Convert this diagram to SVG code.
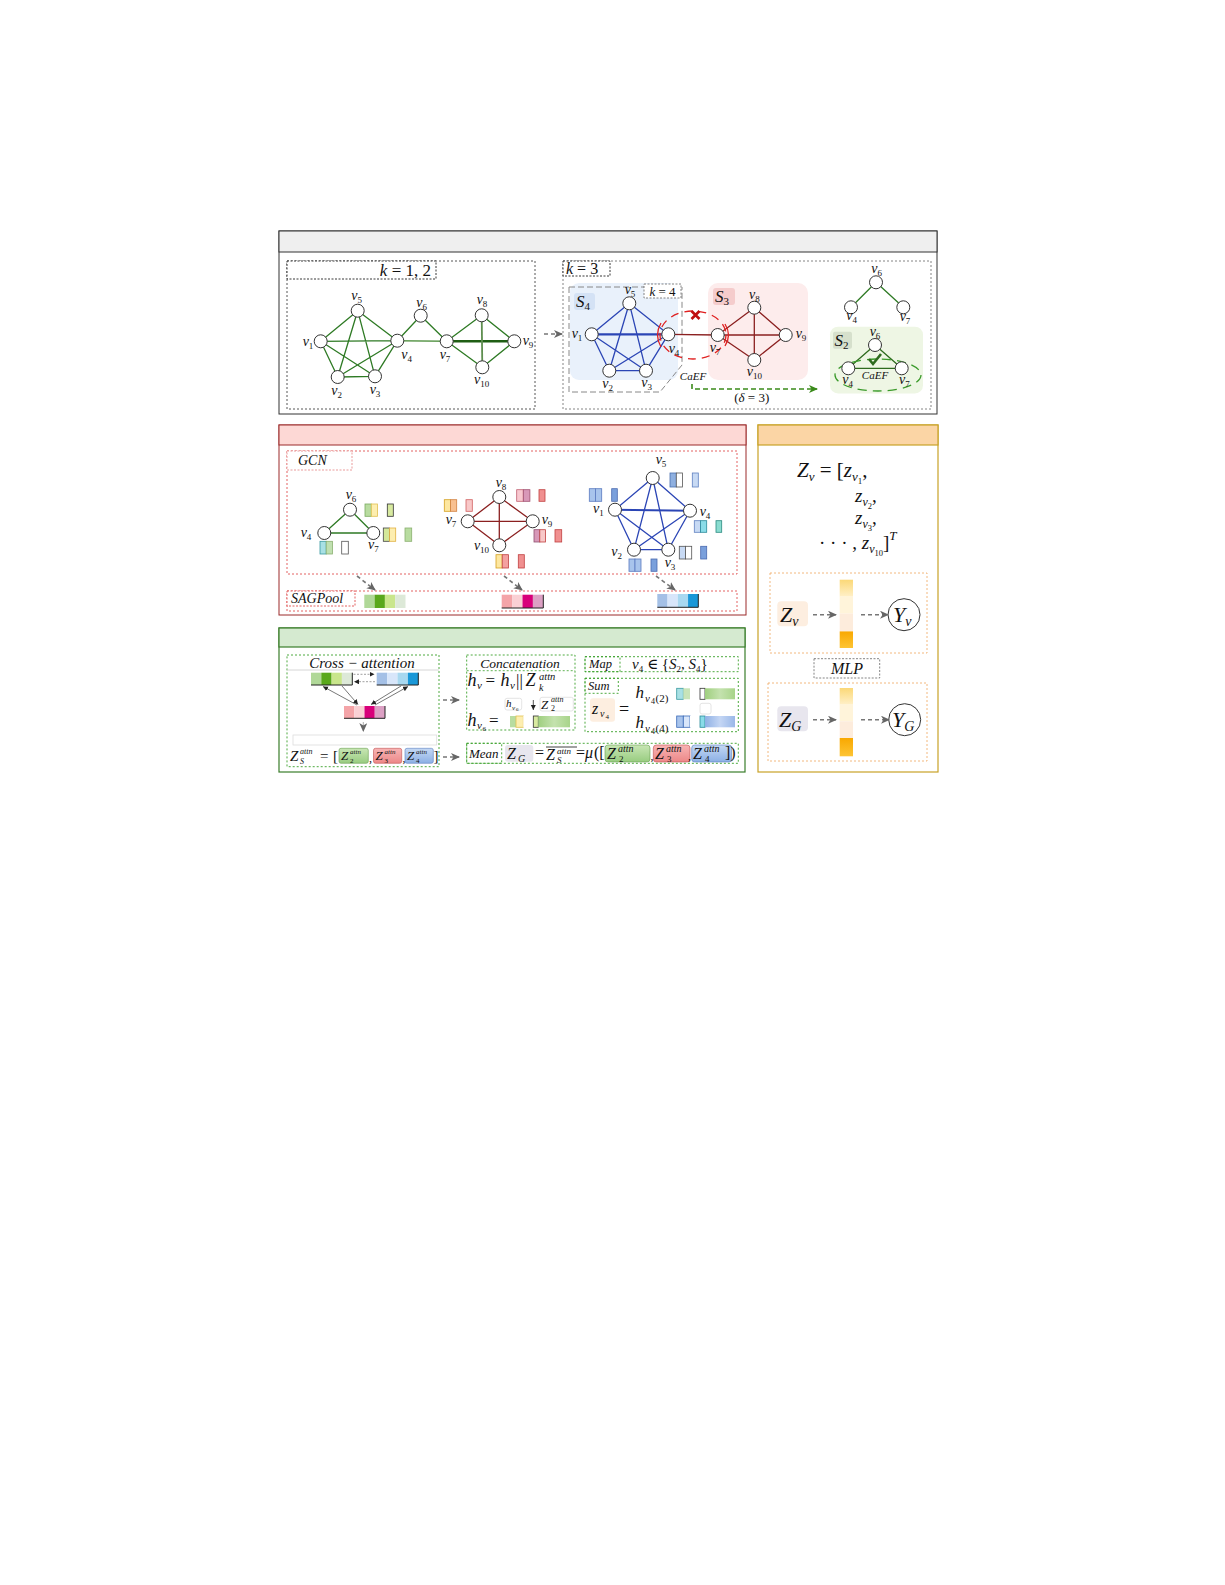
<svg xmlns="http://www.w3.org/2000/svg" width="1225" height="1585" viewBox="0 0 1225 1585">
<defs>
<style>
.m{font-family:"Liberation Serif","DejaVu Serif",serif;font-style:italic;fill:#111}
.u{font-family:"Liberation Serif","DejaVu Serif",serif;font-style:normal;fill:#111}
.lb{font-family:"Liberation Serif","DejaVu Serif",serif;font-style:italic;font-size:14px;fill:#111;text-anchor:middle}
.sb{font-size:9px;font-style:normal}
.nd{fill:#fff;stroke:#333;stroke-width:1}
.eg{stroke:#2e7a24;stroke-width:1.3;fill:none}
.eb{stroke:#2b45b5;stroke-width:1.3;fill:none}
.er{stroke:#8b2020;stroke-width:1.3;fill:none}
.da{stroke:#777;stroke-width:1.6;stroke-dasharray:4,3;fill:none}
.dot{fill:none;stroke-width:0.9;stroke-dasharray:2,2}
</style>
<marker id="ag" markerWidth="10" markerHeight="10" refX="8" refY="4" orient="auto" markerUnits="userSpaceOnUse"><path d="M0,0 L9,4 L0,8 L2.5,4 Z" fill="#666"/></marker>
<marker id="ak" markerWidth="6" markerHeight="6" refX="5" refY="2.5" orient="auto" markerUnits="userSpaceOnUse"><path d="M0,0 L5,2.5 L0,5 Z" fill="#222"/></marker>
<marker id="agr" markerWidth="10" markerHeight="10" refX="8" refY="4" orient="auto" markerUnits="userSpaceOnUse"><path d="M0,0 L9,4 L0,8 L2.5,4 Z" fill="#3a8a1a"/></marker>
<linearGradient id="gG" x1="0" x2="1"><stop offset="0" stop-color="#9fcf7f"/><stop offset="0.5" stop-color="#c4e2ae"/><stop offset="1" stop-color="#a8d48a"/></linearGradient>
<linearGradient id="gB" x1="0" x2="1"><stop offset="0" stop-color="#8fb0e4"/><stop offset="0.5" stop-color="#c4d6f4"/><stop offset="1" stop-color="#9ab8e8"/></linearGradient>
<linearGradient id="gY" x1="0" y1="0" x2="0" y2="1"><stop offset="0" stop-color="#fbd877"/><stop offset="1" stop-color="#fff0c8"/></linearGradient>
<linearGradient id="gO" x1="0" y1="0" x2="0" y2="1"><stop offset="0" stop-color="#f9a800"/><stop offset="1" stop-color="#fdc434"/></linearGradient>
<linearGradient id="zg" x1="0" y1="0" x2="0" y2="1"><stop offset="0" stop-color="#c8e6b4"/><stop offset="1" stop-color="#98cc80"/></linearGradient>
<linearGradient id="zr" x1="0" y1="0" x2="0" y2="1"><stop offset="0" stop-color="#f8b4b4"/><stop offset="1" stop-color="#ec8888"/></linearGradient>
<linearGradient id="zb" x1="0" y1="0" x2="0" y2="1"><stop offset="0" stop-color="#c4d8f4"/><stop offset="1" stop-color="#8cb0e4"/></linearGradient>
</defs>
<rect x="0" y="0" width="1225" height="1585" fill="#fff"/>

<!-- ============ TOP PANEL ============ -->
<g id="panel-top">
<rect x="279" y="231" width="658" height="183" fill="#fff" stroke="#333" stroke-width="1"/>
<rect x="279" y="231" width="658" height="21" fill="#efefef" stroke="#333" stroke-width="1"/>
<rect x="287" y="261" width="248" height="148" class="dot" stroke="#444"/>
<rect x="287" y="261" width="149" height="18" fill="#fff" stroke="#222" stroke-width="0.9" stroke-dasharray="2,1.5"/>
<text x="431" y="276" class="u" font-size="17" text-anchor="end"><tspan font-style="italic">k</tspan> = 1, 2</text>
<rect x="563" y="261" width="368" height="148" class="dot" stroke="#777"/>
<rect x="563" y="261" width="47" height="15" fill="#fff" stroke="#222" stroke-width="0.9" stroke-dasharray="2,1.5"/>
<text x="566" y="274" class="u" font-size="16"><tspan font-style="italic">k</tspan> = 3</text>
</g>

<!-- graph k=1,2 -->
<g id="graph-k12">
<path class="eg" d="M320.7,341.3L337.7,377M320.7,341.3L375,376.3M320.7,341.3L397.3,340.7M320.7,341.3L357.7,310.7M337.7,377L375,376.3M337.7,377L397.3,340.7M337.7,377L357.7,310.7M375,376.3L397.3,340.7M375,376.3L357.7,310.7M397.3,340.7L357.7,310.7M397.3,340.7L420.7,315.7M420.7,315.7L446.7,341.3M446.7,341.3L481.7,315.3M446.7,341.3L482.3,367.3M481.7,315.3L514.3,341.3M482.3,367.3L514.3,341.3"/>
<line x1="397.3" y1="340.7" x2="446.7" y2="341.3" stroke="#5f9a50" stroke-width="1.6"/>
<line x1="446.7" y1="341.3" x2="514.3" y2="341.3" stroke="#1f5e14" stroke-width="2.6"/>
<line x1="481.7" y1="315.3" x2="482.3" y2="367.3" stroke="#5f8f50" stroke-width="1.8"/>
<circle class="nd" cx="357.7" cy="310.7" r="6.5"/><circle class="nd" cx="320.7" cy="341.3" r="6.5"/><circle class="nd" cx="397.3" cy="340.7" r="6.5"/><circle class="nd" cx="337.7" cy="377" r="6.5"/><circle class="nd" cx="375" cy="376.3" r="6.5"/><circle class="nd" cx="420.7" cy="315.7" r="6.5"/><circle class="nd" cx="446.7" cy="341.3" r="6.5"/><circle class="nd" cx="481.7" cy="315.3" r="6.5"/><circle class="nd" cx="514.3" cy="341.3" r="6.5"/><circle class="nd" cx="482.3" cy="367.3" r="6.5"/>
<text class="lb" x="356.7" y="300">v<tspan class="sb" dy="3">5</tspan></text>
<text class="lb" x="308" y="346">v<tspan class="sb" dy="3">1</tspan></text>
<text class="lb" x="406.7" y="359">v<tspan class="sb" dy="3">4</tspan></text>
<text class="lb" x="336.7" y="395">v<tspan class="sb" dy="3">2</tspan></text>
<text class="lb" x="375" y="394">v<tspan class="sb" dy="3">3</tspan></text>
<text class="lb" x="421.7" y="307">v<tspan class="sb" dy="3">6</tspan></text>
<text class="lb" x="445" y="359">v<tspan class="sb" dy="3">7</tspan></text>
<text class="lb" x="482" y="304">v<tspan class="sb" dy="3">8</tspan></text>
<text class="lb" x="528" y="345">v<tspan class="sb" dy="3">9</tspan></text>
<text class="lb" x="481.7" y="384">v<tspan class="sb" dy="3">10</tspan></text>
</g>

<!-- graph k=3 -->
<g id="graph-k3">
<rect x="570" y="283" width="108" height="97" rx="9" fill="#e9f1fb"/>
<rect x="708" y="283" width="100" height="97" rx="10" fill="#fdecec"/>
<path d="M569,287 L569,392 L660,392 L682,365 L682,287" fill="none" stroke="#888" stroke-width="1" stroke-dasharray="6,3"/>
<line x1="569" y1="287" x2="644" y2="287" stroke="#888" stroke-width="1" stroke-dasharray="6,3"/>
<rect x="644" y="284" width="37" height="14" fill="#fff" stroke="#777" stroke-width="0.9" stroke-dasharray="2,1.5"/>
<text x="662.5" y="295.5" class="u" font-size="13" text-anchor="middle" fill="#444"><tspan font-style="italic">k</tspan> = 4</text>
<rect x="574" y="293" width="21" height="17" rx="3" fill="#d4e2f5"/>
<text x="576" y="307" class="m" font-size="17">S<tspan font-size="11" font-style="normal" dy="3">4</tspan></text>
<rect x="713" y="288" width="22" height="17" rx="3" fill="#f5cccc"/>
<text x="715" y="302" class="m" font-size="17">S<tspan font-size="11" font-style="normal" dy="3">3</tspan></text>
<path class="eb" d="M591.7,334.3L609.3,370.7M591.7,334.3L646,370.7M591.7,334.3L629.3,303.3M609.3,370.7L646,370.7M609.3,370.7L668.3,334.3M609.3,370.7L629.3,303.3M646,370.7L668.3,334.3M646,370.7L629.3,303.3M668.3,334.3L629.3,303.3"/>
<line x1="591.7" y1="334.3" x2="668.3" y2="334.3" stroke="#2b45b5" stroke-width="2.3"/>
<path class="er" d="M668.3,334.3L717.7,335M717.7,335L754.3,307.7M717.7,335L785.7,335M717.7,335L754.3,360M754.3,307.7L785.7,335M754.3,307.7L754.3,360M785.7,335L754.3,360"/>
<ellipse cx="693" cy="335" rx="33" ry="24" fill="none" stroke="#e02020" stroke-width="1.3" stroke-dasharray="8,6"/>
<path d="M661,323 Q654,335 661,347" fill="none" stroke="#e02020" stroke-width="1.3"/>
<path d="M725,324 Q732,335 725,346" fill="none" stroke="#e02020" stroke-width="1.3"/>
<path d="M691.5,311 L699.5,319 M699.5,311 L691.5,319" stroke="#c01010" stroke-width="2.6"/>
<circle class="nd" cx="629.3" cy="303.3" r="6.5"/><circle class="nd" cx="591.7" cy="334.3" r="6.5"/><circle class="nd" cx="668.3" cy="334.3" r="6.5"/><circle class="nd" cx="609.3" cy="370.7" r="6.5"/><circle class="nd" cx="646" cy="370.7" r="6.5"/><circle class="nd" cx="717.7" cy="335" r="6.5"/><circle class="nd" cx="754.3" cy="307.7" r="6.5"/><circle class="nd" cx="785.7" cy="335" r="6.5"/><circle class="nd" cx="754.3" cy="360" r="6.5"/>
<text class="lb" x="630" y="294">v<tspan class="sb" dy="3">5</tspan></text>
<text class="lb" x="577" y="338">v<tspan class="sb" dy="3">1</tspan></text>
<text class="lb" x="674" y="353">v<tspan class="sb" dy="3">4</tspan></text>
<text class="lb" x="607.7" y="388">v<tspan class="sb" dy="3">2</tspan></text>
<text class="lb" x="646.7" y="387">v<tspan class="sb" dy="3">3</tspan></text>
<text class="lb" x="715" y="352">v<tspan class="sb" dy="3">7</tspan></text>
<text class="lb" x="754.3" y="299">v<tspan class="sb" dy="3">8</tspan></text>
<text class="lb" x="801" y="338">v<tspan class="sb" dy="3">9</tspan></text>
<text class="lb" x="754.3" y="376">v<tspan class="sb" dy="3">10</tspan></text>
<text x="693" y="380" class="m" font-size="11" text-anchor="middle">CaEF</text>
<text x="751.7" y="402" class="u" font-size="13" text-anchor="middle">(<tspan font-style="italic">δ</tspan> = 3)</text>
</g>

<!-- tree + S2 -->
<g id="graph-s2">
<path class="eg" d="M876,282.3L851,307.3M876,282.3L903.3,307.3"/>
<circle class="nd" cx="876" cy="282.3" r="6.5"/><circle class="nd" cx="851" cy="307.3" r="6.5"/><circle class="nd" cx="903.3" cy="307.3" r="6.5"/>
<text class="lb" x="876.7" y="273">v<tspan class="sb" dy="3">6</tspan></text>
<text class="lb" x="851.7" y="320">v<tspan class="sb" dy="3">4</tspan></text>
<text class="lb" x="905" y="321">v<tspan class="sb" dy="3">7</tspan></text>
<rect x="830" y="326.7" width="93" height="66.7" rx="8" fill="#eef6e4"/>
<rect x="833" y="331.7" width="19" height="17" rx="2" fill="#d6e0cc"/>
<text x="834.5" y="346" class="m" font-size="17">S<tspan font-size="11" font-style="normal" dy="3">2</tspan></text>
<path d="M875,345L848.3,368.3M875,345L901.7,368.3M848.3,368.3L901.7,368.3" stroke="#2e6b1e" stroke-width="1.3" fill="none"/>
<ellipse cx="878" cy="375" rx="43" ry="16" fill="none" stroke="#3a9a2a" stroke-width="1.3" stroke-dasharray="9,6"/>
<path d="M869,359 L873,364 L881,354" stroke="#2e6b1e" stroke-width="2.6" fill="none"/>
<circle class="nd" cx="875" cy="345" r="6.5"/><circle class="nd" cx="848.3" cy="368.3" r="6.5"/><circle class="nd" cx="901.7" cy="368.3" r="6.5"/>
<text class="lb" x="875" y="336">v<tspan class="sb" dy="3">6</tspan></text>
<text class="lb" x="847.7" y="384">v<tspan class="sb" dy="3">4</tspan></text>
<text class="lb" x="904.3" y="384">v<tspan class="sb" dy="3">7</tspan></text>
<text x="875" y="379" class="m" font-size="11" text-anchor="middle">CaEF</text>
</g>

<!-- ============ RED PANEL ============ -->
<g id="panel-red">
<rect x="279" y="425" width="467" height="190" fill="#fff" stroke="#9b2a2a" stroke-width="1"/>
<rect x="279" y="425" width="467" height="20" fill="#fdd8d5" stroke="#9b2a2a" stroke-width="1"/>
<rect x="287" y="451" width="450" height="123" class="dot" stroke="#e05050"/>
<rect x="287" y="451" width="65" height="19" fill="#fff" stroke="#e89090" stroke-width="0.9" stroke-dasharray="2,1.5"/>
<text x="298" y="465" class="m" font-size="14">GCN</text>
<rect x="287" y="591" width="450" height="20" class="dot" stroke="#e05050"/>
<rect x="287" y="591" width="68" height="15" fill="#fff" stroke="#e05050" stroke-width="0.9" stroke-dasharray="2,1.5"/>
<text x="291" y="603" class="m" font-size="14">SAGPool</text>
</g>

<g id="gcn-s2">
<path class="eg" d="M350,509.7L324.3,533M350,509.7L373.3,533M324.3,533L373.3,533"/>
<circle class="nd" cx="350" cy="509.7" r="6.5"/><circle class="nd" cx="324.3" cy="533" r="6.5"/><circle class="nd" cx="373.3" cy="533" r="6.5"/>
<text class="lb" x="351" y="499">v<tspan class="sb" dy="3">6</tspan></text>
<text class="lb" x="306" y="537">v<tspan class="sb" dy="3">4</tspan></text>
<text class="lb" x="373.3" y="549">v<tspan class="sb" dy="3">7</tspan></text>
<rect x="365" y="504" width="6.3" height="12.3" fill="#b8dca0" stroke="#7aaa60" stroke-width="0.8"/><rect x="371.3" y="504" width="6.3" height="12.3" fill="#fdeeb0" stroke="#e0c050" stroke-width="0.8"/>
<rect x="387.3" y="504" width="6" height="12.3" fill="#d8eaa0" stroke="#333" stroke-width="0.8"/>
<rect x="383.3" y="528" width="6.2" height="13.3" fill="#d4e89a" stroke="#444" stroke-width="0.8"/><rect x="389.5" y="528" width="6.2" height="13.3" fill="#fdeeb0" stroke="#e0b040" stroke-width="0.8"/>
<rect x="405" y="528" width="6.7" height="13.3" fill="#b8dca0" stroke="#8ab070" stroke-width="0.8"/>
<rect x="320" y="541.3" width="6.2" height="12.7" fill="#a8e0e4" stroke="#3a9aa0" stroke-width="0.8"/><rect x="326.2" y="541.3" width="6.2" height="12.7" fill="#c0e0b0" stroke="#8ab070" stroke-width="0.8"/>
<rect x="341.7" y="541.3" width="6.6" height="12.7" fill="#fff" stroke="#555" stroke-width="0.8"/>
</g>

<g id="gcn-s3">
<path class="er" d="M467.7,521.3L499.3,497M499.3,497L532.7,521.3M532.7,521.3L499.3,545.3M499.3,545.3L467.7,521.3M467.7,521.3L532.7,521.3M499.3,497L499.3,545.3"/>
<circle class="nd" cx="499.3" cy="497" r="6.5"/><circle class="nd" cx="467.7" cy="521.3" r="6.5"/><circle class="nd" cx="532.7" cy="521.3" r="6.5"/><circle class="nd" cx="499.3" cy="545.3" r="6.5"/>
<text class="lb" x="501" y="487">v<tspan class="sb" dy="3">8</tspan></text>
<text class="lb" x="451" y="524">v<tspan class="sb" dy="3">7</tspan></text>
<text class="lb" x="547" y="524">v<tspan class="sb" dy="3">9</tspan></text>
<text class="lb" x="481.5" y="550">v<tspan class="sb" dy="3">10</tspan></text>
<rect x="444.3" y="499.7" width="6.2" height="11.6" fill="#fde7a0" stroke="#d4a020" stroke-width="0.8"/><rect x="450.5" y="499.7" width="6.2" height="11.6" fill="#f8c090" stroke="#d08040" stroke-width="0.8"/>
<rect x="466" y="499.7" width="6.3" height="11.6" fill="#f8c8c8" stroke="#d06060" stroke-width="0.8"/>
<rect x="516.7" y="489.7" width="6.6" height="11.6" fill="#f8c8d0" stroke="#c06070" stroke-width="0.8"/><rect x="523.3" y="489.7" width="6.6" height="11.6" fill="#d898b8" stroke="#a05070" stroke-width="0.8"/>
<rect x="539" y="489.7" width="6" height="11.6" fill="#f09090" stroke="#c04040" stroke-width="0.8"/>
<rect x="534" y="529.7" width="5.8" height="12.3" fill="#d898b8" stroke="#905070" stroke-width="0.8"/><rect x="539.8" y="529.7" width="5.8" height="12.3" fill="#f8c8c8" stroke="#c04040" stroke-width="0.8"/>
<rect x="555" y="529.7" width="6.7" height="12.3" fill="#f09090" stroke="#c04040" stroke-width="0.8"/>
<rect x="496" y="554.7" width="6.2" height="13.3" fill="#fde7a0" stroke="#d4a020" stroke-width="0.8"/><rect x="502.2" y="554.7" width="6.2" height="13.3" fill="#f4a0a0" stroke="#c04040" stroke-width="0.8"/>
<rect x="518.3" y="554.7" width="6" height="13.3" fill="#f09090" stroke="#c04040" stroke-width="0.8"/>
</g>

<g id="gcn-s4">
<path class="eb" d="M615,509.7L634,549.7M615,509.7L668.3,549.7M615,509.7L652.7,478M634,549.7L668.3,549.7M634,549.7L690,510.7M634,549.7L652.7,478M668.3,549.7L690,510.7M668.3,549.7L652.7,478M690,510.7L652.7,478"/>
<line x1="615" y1="509.7" x2="690" y2="510.7" stroke="#2b45b5" stroke-width="2"/>
<circle class="nd" cx="652.7" cy="478" r="6.5"/><circle class="nd" cx="615" cy="509.7" r="6.5"/><circle class="nd" cx="690" cy="510.7" r="6.5"/><circle class="nd" cx="634" cy="549.7" r="6.5"/><circle class="nd" cx="668.3" cy="549.7" r="6.5"/>
<text class="lb" x="661" y="464">v<tspan class="sb" dy="3">5</tspan></text>
<text class="lb" x="598.3" y="513">v<tspan class="sb" dy="3">1</tspan></text>
<text class="lb" x="705" y="516">v<tspan class="sb" dy="3">4</tspan></text>
<text class="lb" x="616.7" y="556">v<tspan class="sb" dy="3">2</tspan></text>
<text class="lb" x="670" y="567">v<tspan class="sb" dy="3">3</tspan></text>
<rect x="670" y="473" width="6.3" height="14" fill="#8fb0e0" stroke="#4a70b0" stroke-width="0.8"/><rect x="676.3" y="473" width="6.3" height="14" fill="#fff" stroke="#555" stroke-width="0.8"/>
<rect x="692.3" y="473" width="6" height="14" fill="#c8daf4" stroke="#6080c0" stroke-width="0.8"/>
<rect x="589.3" y="488.7" width="6.2" height="12.6" fill="#a8c4ec" stroke="#5a7ac0" stroke-width="0.8"/><rect x="595.5" y="488.7" width="6.2" height="12.6" fill="#a8c4ec" stroke="#5a7ac0" stroke-width="0.8"/>
<rect x="611.7" y="488.7" width="5.6" height="12.6" fill="#7aa0dc" stroke="#4a6ab0" stroke-width="0.8"/>
<rect x="694.3" y="520.7" width="6.2" height="11.6" fill="#c8daf4" stroke="#6080c0" stroke-width="0.8"/><rect x="700.5" y="520.7" width="6.2" height="11.6" fill="#8adce8" stroke="#2a8a9a" stroke-width="0.8"/>
<rect x="716" y="520.7" width="5.7" height="11.6" fill="#8adcd0" stroke="#2a8a80" stroke-width="0.8"/>
<rect x="679.3" y="546.3" width="6.2" height="12.7" fill="#c8daf4" stroke="#555" stroke-width="0.8"/><rect x="685.5" y="546.3" width="6.2" height="12.7" fill="#fff" stroke="#555" stroke-width="0.8"/>
<rect x="700.7" y="546.3" width="6" height="12.7" fill="#7aa0dc" stroke="#4a6ab0" stroke-width="0.8"/>
<rect x="629" y="559" width="6" height="12.3" fill="#a8c4ec" stroke="#5a7ac0" stroke-width="0.8"/><rect x="635" y="559" width="6" height="12.3" fill="#a8c4ec" stroke="#5a7ac0" stroke-width="0.8"/>
<rect x="651" y="559" width="6" height="12.3" fill="#7aa0dc" stroke="#4a6ab0" stroke-width="0.8"/>
</g>

<g id="sagpool-vectors">
<rect x="364.3" y="594.7" width="10.3" height="13.3" fill="#b0d898"/><rect x="374.6" y="594.7" width="10.3" height="13.3" fill="#5aa81c"/><rect x="384.9" y="594.7" width="10.3" height="13.3" fill="#c9e68c"/><rect x="395.2" y="594.7" width="10.3" height="13.3" fill="#dde9d8"/>
<rect x="501.7" y="594.7" width="10.4" height="13.3" fill="#f4a4a8"/><rect x="512.1" y="594.7" width="10.4" height="13.3" fill="#fad0d4"/><rect x="522.5" y="594.7" width="10.4" height="13.3" fill="#d8007a"/><rect x="532.9" y="594.7" width="10.4" height="13.3" fill="#dca0c4"/>
<path d="M501.7,608 L543.3,608 L543.3,594.7" fill="none" stroke="#222" stroke-width="1"/>
<rect x="657.3" y="594" width="10.25" height="13.3" fill="#a4c0e6"/><rect x="667.55" y="594" width="10.25" height="13.3" fill="#d8e6fa"/><rect x="677.8" y="594" width="10.25" height="13.3" fill="#a8d8f0"/><rect x="688.05" y="594" width="10.25" height="13.3" fill="#1a98d8"/>
<path d="M657.3,607.3 L698.3,607.3 L698.3,594" fill="none" stroke="#222" stroke-width="1"/>
</g>

<!-- ============ ORANGE PANEL ============ -->
<g id="panel-orange">
<rect x="758" y="425" width="180" height="347" fill="#fff" stroke="#c9a227" stroke-width="1.2"/>
<rect x="758" y="425" width="180" height="20" fill="#fbd5a5" stroke="#c9a227" stroke-width="1.2"/>
<text x="797" y="477" class="m" font-size="21">Z<tspan font-size="13" dy="4">v</tspan><tspan class="u" font-style="normal" dy="-4"> = [</tspan>z<tspan font-size="13" dy="4">v</tspan><tspan font-size="9" font-style="normal" dy="3">1</tspan><tspan font-style="normal" dy="-7">,</tspan></text>
<text x="855" y="502" class="m" font-size="19">z<tspan font-size="12" dy="4">v</tspan><tspan font-size="8.5" font-style="normal" dy="3">2</tspan><tspan font-style="normal" dy="-7">,</tspan></text>
<text x="855" y="524" class="m" font-size="19">z<tspan font-size="12" dy="4">v</tspan><tspan font-size="8.5" font-style="normal" dy="3">3</tspan><tspan font-style="normal" dy="-7">,</tspan></text>
<text x="819" y="549" class="m" font-size="19"><tspan font-style="normal">· · · , </tspan>z<tspan font-size="12" dy="4">v</tspan><tspan font-size="8.5" font-style="normal" dy="3">10</tspan><tspan font-style="normal" dy="-7">]</tspan><tspan font-size="13" dy="-9">T</tspan></text>
<rect x="770" y="573" width="157" height="80" class="dot" stroke="#f0b070"/>
<rect x="777.3" y="601.3" width="30.7" height="25" rx="4" fill="#fdeee0"/>
<text x="780" y="622" class="m" font-size="22">Z<tspan font-size="14" dy="4">v</tspan></text>
<rect x="839.7" y="579.7" width="13.3" height="17" fill="url(#gY)"/>
<rect x="839.7" y="596.7" width="13.3" height="17" fill="#fff4da"/>
<rect x="839.7" y="613.7" width="13.3" height="17.7" fill="#fdecdc"/>
<rect x="839.7" y="631.4" width="13.3" height="16.6" fill="url(#gO)"/>
<circle cx="904" cy="614.7" r="16" fill="#fff" stroke="#333" stroke-width="1"/>
<text x="893" y="622" class="m" font-size="22">Y<tspan font-size="14" dy="4">v</tspan></text>
<rect x="814" y="658.7" width="65.7" height="19.3" fill="#fff" stroke="#777" stroke-width="0.9" stroke-dasharray="2,1.5"/>
<text x="847" y="674" class="m" font-size="16" text-anchor="middle">MLP</text>
<rect x="768" y="683" width="159" height="78" class="dot" stroke="#f0b070"/>
<rect x="777.3" y="706.3" width="30.7" height="25" rx="4" fill="#e8e6ee"/>
<text x="779" y="727" class="m" font-size="22">Z<tspan font-size="14" dy="4">G</tspan></text>
<rect x="839.7" y="688" width="13.3" height="16.7" fill="url(#gY)"/>
<rect x="839.7" y="704.7" width="13.3" height="16.6" fill="#fff4da"/>
<rect x="839.7" y="721.3" width="13.3" height="16.7" fill="#fdecdc"/>
<rect x="839.7" y="738" width="13.3" height="18.3" fill="url(#gO)"/>
<circle cx="904.7" cy="719.7" r="16" fill="#fff" stroke="#333" stroke-width="1"/>
<text x="892" y="727" class="m" font-size="22">Y<tspan font-size="14" dy="4">G</tspan></text>
</g>

<!-- ============ GREEN PANEL ============ -->
<g id="panel-green">
<rect x="279" y="628" width="466" height="144" fill="#fff" stroke="#3a7d2a" stroke-width="1.2"/>
<rect x="279" y="628" width="466" height="19" fill="#d5ead0" stroke="#3a7d2a" stroke-width="1.2"/>
</g>

<g id="cross-attention">
<rect x="287" y="655" width="152" height="111.7" class="dot" stroke="#3aa02a"/>
<text x="362" y="667.5" class="m" font-size="15" text-anchor="middle">Cross − attention</text>
<line x1="287" y1="670" x2="439" y2="670" stroke="#ccc" stroke-width="0.8"/>
<rect x="293" y="735" width="143.7" height="10" fill="none" stroke="#ddd" stroke-width="0.8"/>
<rect x="311" y="672.7" width="10.3" height="12.3" fill="#b0d898"/><rect x="321.3" y="672.7" width="10.3" height="12.3" fill="#5aa81c"/><rect x="331.6" y="672.7" width="10.3" height="12.3" fill="#c9e68c"/><rect x="341.9" y="672.7" width="10.4" height="12.3" fill="#dde9d8"/>
<path d="M311,685 L352.3,685 L352.3,672.7" fill="none" stroke="#222" stroke-width="1"/>
<rect x="376.7" y="672.7" width="10.4" height="12.3" fill="#a4c0e6"/><rect x="387.1" y="672.7" width="10.4" height="12.3" fill="#d8e6fa"/><rect x="397.5" y="672.7" width="10.4" height="12.3" fill="#a8d8f0"/><rect x="407.9" y="672.7" width="10.4" height="12.3" fill="#1a98d8"/>
<path d="M376.7,685 L418.3,685 L418.3,672.7" fill="none" stroke="#222" stroke-width="1"/>
<rect x="344" y="706" width="10.25" height="12.3" fill="#f4a4a8"/><rect x="354.25" y="706" width="10.25" height="12.3" fill="#fad0d4"/><rect x="364.5" y="706" width="10.25" height="12.3" fill="#d8007a"/><rect x="374.75" y="706" width="10.25" height="12.3" fill="#dca0c4"/>
<path d="M344,718.3 L385,718.3 L385,706" fill="none" stroke="#222" stroke-width="1"/>
<text x="290" y="761" class="m" font-size="15">Z</text>
<text x="300" y="754" class="m" font-size="8">attn</text>
<text x="300" y="764" class="m" font-size="8">S</text>
<text x="320" y="761" class="u" font-size="15">=</text>
<text x="333" y="761" class="u" font-size="15">[</text>
<rect x="339" y="748.3" width="29.3" height="15" rx="2" fill="url(#zg)" stroke="#6aa050" stroke-width="0.6"/>
<text x="341" y="760" class="m" font-size="13">Z</text><text x="350" y="754" class="m" font-size="7">attn</text><text x="350" y="762.5" class="u" font-size="7">2</text>
<text x="369" y="762" class="u" font-size="12">,</text>
<rect x="373.5" y="748.3" width="28.2" height="15" rx="2" fill="url(#zr)" stroke="#c05050" stroke-width="0.6"/>
<text x="375.5" y="760" class="m" font-size="13">Z</text><text x="384.5" y="754" class="m" font-size="7">attn</text><text x="384.5" y="762.5" class="u" font-size="7">3</text>
<text x="402.5" y="762" class="u" font-size="12">,</text>
<rect x="405" y="748.3" width="28.3" height="15" rx="2" fill="url(#zb)" stroke="#5a80c0" stroke-width="0.6"/>
<text x="407" y="760" class="m" font-size="13">Z</text><text x="416" y="754" class="m" font-size="7">attn</text><text x="416" y="762.5" class="u" font-size="7">4</text>
<text x="433.5" y="761" class="u" font-size="15">]</text>
</g>

<g id="concatenation">
<rect x="466.7" y="655" width="108.3" height="75" class="dot" stroke="#3aa02a"/>
<text x="520" y="668" class="m" font-size="13.5" text-anchor="middle">Concatenation</text>
<line x1="466.7" y1="670.7" x2="575" y2="670.7" stroke="#3aa02a" stroke-width="0.8" stroke-dasharray="2,2"/>
<text x="467.5" y="686" class="m" font-size="18">h</text><text x="477" y="689" class="m" font-size="11">v</text>
<text x="485.5" y="686" class="u" font-size="17">=</text>
<text x="500.5" y="686" class="m" font-size="18">h</text><text x="510" y="689" class="m" font-size="11">v</text>
<text x="516" y="686" class="u" font-size="17">||</text>
<text x="525.5" y="686" class="m" font-size="18">Z</text><text x="539" y="679.5" class="m" font-size="10.5">attn</text><text x="539" y="691" class="m" font-size="10">k</text>
<rect x="505" y="698.3" width="16.7" height="11.7" rx="2" fill="#fff" stroke="#ddd" stroke-width="0.8"/>
<text x="506" y="707" class="m" font-size="11">h</text><text x="512" y="709.5" class="m" font-size="7">v</text><text x="516" y="711" class="u" font-size="5">6</text>
<rect x="540" y="697.3" width="33.3" height="13.7" rx="2" fill="#fff" stroke="#ddd" stroke-width="0.8"/>
<text x="541" y="708.5" class="m" font-size="13">Z</text><text x="551" y="702" class="m" font-size="8">attn</text><text x="551" y="711" class="u" font-size="8">2</text>
<text x="467.5" y="726" class="m" font-size="18">h</text><text x="477" y="729" class="m" font-size="11">v</text><text x="482.5" y="731" class="u" font-size="7">6</text>
<text x="489" y="726" class="u" font-size="17">=</text>
<rect x="510" y="716" width="6" height="11.3" fill="#b8dca0"/>
<rect x="516" y="716" width="7.3" height="11.3" fill="#fdeeb0" stroke="#e0c050" stroke-width="0.8"/>
<rect x="523.3" y="716" width="10" height="11.3" fill="#fff"/>
<rect x="533.3" y="716" width="5" height="11.3" fill="#d8eaa0" stroke="#333" stroke-width="0.8"/>
<rect x="538.3" y="716" width="31.7" height="11.3" fill="url(#gG)"/>
</g>

<g id="map-sum">
<rect x="585" y="656.7" width="153.3" height="15" class="dot" stroke="#3aa02a"/>
<rect x="585" y="656.7" width="35" height="15" class="dot" stroke="#3aa02a"/>
<text x="589" y="668" class="m" font-size="12.5">Map</text>
<text x="632" y="669" class="m" font-size="15">v<tspan font-size="9" font-style="normal" dy="3">4</tspan><tspan font-style="normal" dy="-3"> ∈ {</tspan>S<tspan font-size="9" font-style="normal" dy="3">2</tspan><tspan font-style="normal" dy="-3">, </tspan>S<tspan font-size="9" font-style="normal" dy="3">4</tspan><tspan font-style="normal" dy="-3">}</tspan></text>
<rect x="585" y="678.3" width="153.3" height="53.4" class="dot" stroke="#3aa02a"/>
<rect x="585" y="678.3" width="33.3" height="15" class="dot" stroke="#3aa02a"/>
<text x="588" y="690" class="m" font-size="12.5">Sum</text>
<rect x="590" y="698.3" width="25" height="23.4" rx="3" fill="#fdeee0"/>
<text x="592" y="714" class="m" font-size="16">z</text><text x="600" y="717" class="m" font-size="10">v</text><text x="605.5" y="719" class="u" font-size="7">4</text>
<text x="619" y="715" class="u" font-size="18">=</text>
<text x="635.5" y="698" class="m" font-size="17">h</text><text x="645" y="701.5" class="m" font-size="11">v</text><text x="651" y="703.5" class="u" font-size="8">4</text><text x="655.5" y="701.5" class="u" font-size="11">(2)</text>
<rect x="676.7" y="688.3" width="6.6" height="11" fill="#a8e0e4" stroke="#3a9aa0" stroke-width="0.8"/>
<rect x="683.3" y="688.3" width="6.7" height="11" fill="#c8e4b8"/>
<rect x="690" y="688.3" width="10" height="11" fill="#fff"/>
<rect x="700" y="688.3" width="5" height="11" fill="#fff" stroke="#333" stroke-width="0.8"/>
<rect x="705" y="688.3" width="30" height="11" fill="url(#gG)"/>
<rect x="700" y="703.3" width="11" height="10.7" rx="2" fill="#fff" stroke="#ddd" stroke-width="0.8"/>
<text x="635.5" y="728" class="m" font-size="17">h</text><text x="645" y="731.5" class="m" font-size="11">v</text><text x="651" y="733.5" class="u" font-size="8">4</text><text x="655.5" y="731.5" class="u" font-size="11">(4)</text>
<rect x="676.7" y="716" width="6.6" height="11.3" fill="#a8c4ec" stroke="#3a6ab8" stroke-width="0.8"/>
<rect x="683.3" y="716" width="6.7" height="11.3" fill="#d8e6fa" stroke="#3a6ab8" stroke-width="0.8"/>
<rect x="690" y="716" width="10" height="11.3" fill="#fff"/>
<rect x="700" y="716" width="5" height="11.3" fill="#8adce8" stroke="#2a8a9a" stroke-width="0.8"/>
<rect x="705" y="716" width="30" height="11.3" fill="url(#gB)"/>
</g>

<g id="mean">
<rect x="466.7" y="743.3" width="271.6" height="20" class="dot" stroke="#3aa02a"/>
<rect x="466.7" y="743.3" width="35" height="20" class="dot" stroke="#3aa02a"/>
<text x="469" y="757.5" class="m" font-size="13">Mean</text>
<rect x="505" y="745" width="28.3" height="16.7" rx="3" fill="#e8e6ee"/>
<text x="507" y="759" class="m" font-size="16">Z</text><text x="518" y="762" class="m" font-size="10">G</text>
<text x="535" y="758" class="u" font-size="16">=</text>
<line x1="546" y1="747" x2="577" y2="747" stroke="#111" stroke-width="0.8"/>
<text x="546" y="760" class="m" font-size="16">Z</text><text x="557" y="753.5" class="m" font-size="9">attn</text><text x="557" y="763" class="m" font-size="9">S</text>
<text x="576" y="758" class="u" font-size="16">=</text>
<text x="585" y="758" class="m" font-size="16">μ</text>
<text x="594" y="758" class="u" font-size="16">([</text>
<rect x="605" y="745" width="45" height="17" rx="3" fill="url(#zg)" stroke="#6aa050" stroke-width="0.6"/>
<text x="607" y="759" class="m" font-size="16">Z</text><text x="618" y="752" class="m" font-size="10">attn</text><text x="619" y="762" class="u" font-size="9">2</text>
<text x="650.5" y="760" class="u" font-size="12">,</text>
<rect x="653.3" y="745" width="36.7" height="17" rx="3" fill="url(#zr)" stroke="#c05050" stroke-width="0.6"/>
<text x="655" y="759" class="m" font-size="16">Z</text><text x="666" y="752" class="m" font-size="10">attn</text><text x="667" y="762" class="u" font-size="9">3</text>
<text x="688" y="760" class="u" font-size="12">,</text>
<rect x="691.7" y="745" width="40" height="17" rx="3" fill="url(#zb)" stroke="#5a80c0" stroke-width="0.6"/>
<text x="693" y="759" class="m" font-size="16">Z</text><text x="704" y="752" class="m" font-size="10">attn</text><text x="705" y="762" class="u" font-size="9">4</text>
<text x="725" y="758" class="u" font-size="16">])</text>
</g>

<g id="connectors">
<line x1="544" y1="334" x2="562" y2="334" class="da" marker-end="url(#ag)"/>
<path d="M692,384 L692,389 L817,389" fill="none" stroke="#3a8a1a" stroke-width="1.6" stroke-dasharray="5,3" marker-end="url(#agr)"/>
<line x1="357" y1="576" x2="375" y2="590" class="da" marker-end="url(#ag)"/>
<line x1="504" y1="576" x2="522" y2="590" class="da" marker-end="url(#ag)"/>
<line x1="656" y1="576" x2="675" y2="590" class="da" marker-end="url(#ag)"/>
<line x1="443" y1="700" x2="459" y2="700" class="da" marker-end="url(#ag)"/>
<line x1="443" y1="757" x2="459" y2="757" class="da" marker-end="url(#ag)"/>
<line x1="813" y1="614.7" x2="836" y2="614.7" class="da" marker-end="url(#ag)"/>
<line x1="861" y1="614.7" x2="888" y2="614.7" class="da" marker-end="url(#ag)"/>
<line x1="813" y1="719.7" x2="836" y2="719.7" class="da" marker-end="url(#ag)"/>
<line x1="861" y1="719.7" x2="889" y2="719.7" class="da" marker-end="url(#ag)"/>
<line x1="353.5" y1="674.3" x2="374.5" y2="674.3" stroke="#888" stroke-width="0.8" stroke-dasharray="2,1.5" marker-end="url(#ak)"/>
<line x1="375" y1="681.7" x2="354" y2="681.7" stroke="#888" stroke-width="0.8" stroke-dasharray="2,1.5" marker-end="url(#ak)"/>
<line x1="357" y1="705" x2="323" y2="686.5" stroke="#555" stroke-width="0.8" marker-end="url(#ak)"/>
<line x1="342" y1="686" x2="358" y2="704.5" stroke="#555" stroke-width="0.8" marker-end="url(#ak)"/>
<line x1="401" y1="686" x2="371" y2="704.5" stroke="#555" stroke-width="0.8" marker-end="url(#ak)"/>
<line x1="375" y1="705" x2="408" y2="686.5" stroke="#555" stroke-width="0.8" marker-end="url(#ak)"/>
<line x1="363.3" y1="722" x2="363.3" y2="731" stroke="#999" stroke-width="0.8" marker-end="url(#ag)"/>
<line x1="533.3" y1="700" x2="533.3" y2="710" stroke="#555" stroke-width="1" marker-end="url(#ak)"/>
</g>
</svg>
